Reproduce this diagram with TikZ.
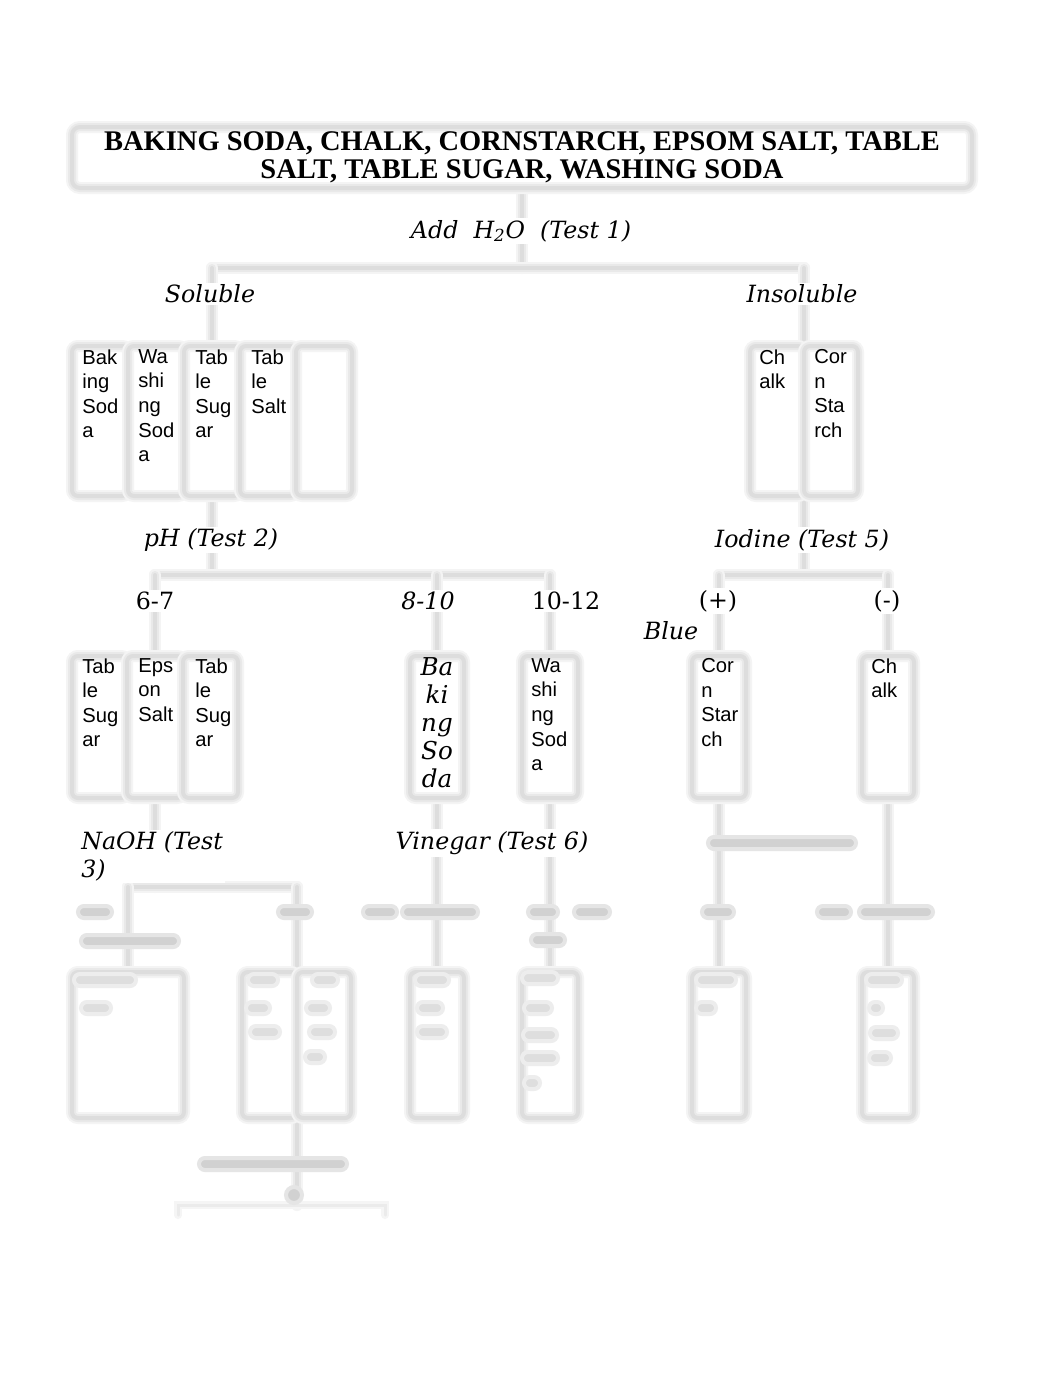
\documentclass[tikz,border=0pt]{standalone}
\usepackage{fontspec}
\setmainfont{Liberation Serif}
\setsansfont{Liberation Sans}
\newfontfamily\djv{DejaVu Serif}
\usetikzlibrary{backgrounds}
\newlength\pu
\setlength\pu{0.02cm}

\tikzset{
  halo/.style={draw=gray!9, line width=12\pu, line cap=round,
    postaction={draw=gray!17, line width=8\pu, line cap=round},
    postaction={draw=gray!27, line width=4\pu, line cap=round}},
  cell/.style={halo, fill=white, rounded corners=6\pu, inner sep=0pt, outer sep=0pt},
  conn/.style={halo},
  faintconn/.style={draw=gray!8, line width=8\pu, line cap=round,
    postaction={draw=gray!16, line width=3\pu, line cap=round}},
  lab/.style={font=\djv\itshape\fontsize{13.5}{16}\selectfont, fill=white, inner sep=2\pu},
  num/.style={font=\djv\fontsize{13.5}{16}\selectfont, fill=white, inner sep=2\pu},
  ctxt/.style={font=\sffamily\fontsize{11.5}{14}\selectfont, align=left, anchor=north west, inner sep=0pt},
  smudge/.style={fill=gray!36, draw=gray!20, line width=4\pu, rounded corners=6\pu, inner sep=0pt, minimum height=12\pu},
  pale/.style={smudge, fill=gray!26, draw=gray!14}
}

\begin{document}
\begin{tikzpicture}[x=0.02cm, y=-0.02cm]
\useasboundingbox (0,0) rectangle (1062,1377);

% starting list
\node[cell, rounded corners=8\pu, minimum width=900\pu, minimum height=61\pu, align=center,
  font=\bfseries\fontsize{16.2}{16}\selectfont] (top) at (522,157.5)
  {BAKING SODA, CHALK, CORNSTARCH, EPSOM SALT, TABLE\\SALT, TABLE SUGAR, WASHING SODA};
\node[lab] (t1) at (521,231) {Add\ \ H\textsubscript{2}O\ \ (Test 1)};
\node[lab] (sol) at (210,294) {Soluble};
\node[lab] (ins) at (802,294) {Insoluble};

% soluble / insoluble
\node[cell, minimum width=56\pu, minimum height=150\pu] (s1) at (100,421) {};
\node[cell, minimum width=56\pu, minimum height=150\pu] (s2) at (156,421) {};
\node[cell, minimum width=56\pu, minimum height=150\pu] (s3) at (212,421) {};
\node[cell, minimum width=56\pu, minimum height=150\pu] (s4) at (268,421) {};
\node[cell, minimum width=56\pu, minimum height=150\pu] (s5) at (324,421) {};
\node[cell, minimum width=54\pu, minimum height=150\pu] (i1) at (777,421) {};
\node[cell, minimum width=54\pu, minimum height=150\pu] (i2) at (831,421) {};
\node[ctxt] (s1t) at (82,349) {Bak\\ing\\Sod\\a};
\node[ctxt] (s2t) at (138,349) {Wa\\shi\\ng\\Sod\\a};
\node[ctxt] (s3t) at (195,349) {Tab\\le\\Sug\\ar};
\node[ctxt] (s4t) at (251,349) {Tab\\le\\Salt};
\node[ctxt] (i1t) at (759,349) {Ch\\alk};
\node[ctxt] (i2t) at (814,349) {Cor\\n\\Sta\\rch};

% pH and iodine
\node[lab] (ph) at (211,540) {pH (Test 2)};
\node[lab] (io) at (802,540) {Iodine (Test 5)};
\node[num] (r67) at (155,601) {6-7};
\node[lab] (r810) at (428,601) {8-10};
\node[num] (r1012) at (566,601) {10-12};
\node[num] (pos) at (718,601) {(+)};
\node[num] (neg) at (887,601) {(-)};
\node[lab] (blue) at (671,631) {Blue};

\node[cell, minimum width=55\pu, minimum height=142\pu] (p1) at (99.5,727) {};
\node[cell, minimum width=56\pu, minimum height=142\pu] (p2) at (155,727) {};
\node[cell, minimum width=55\pu, minimum height=142\pu] (p3) at (210.5,727) {};
\node[cell, minimum width=54\pu, minimum height=142\pu] (bs) at (437,727) {};
\node[cell, minimum width=56\pu, minimum height=142\pu] (wa) at (550,727) {};
\node[cell, minimum width=54\pu, minimum height=142\pu] (cs) at (719,727) {};
\node[cell, minimum width=52\pu, minimum height=142\pu] (ch) at (888,727) {};
\node[ctxt] (p1t) at (82,658) {Tab\\le\\Sug\\ar};
\node[ctxt] (p2t) at (138,658) {Eps\\on\\Salt};
\node[ctxt] (p3t) at (195,658) {Tab\\le\\Sug\\ar};
\node[font=\djv\itshape\fontsize{14}{16}\selectfont, align=center, anchor=north, inner sep=0pt] (bst) at (437,657) {Ba\\ki\\ng\\So\\da};
\node[ctxt] (wat) at (531,658) {Wa\\shi\\ng\\Sod\\a};
\node[ctxt] (cst) at (701,658) {Cor\\n\\Star\\ch};
\node[ctxt] (cht) at (871,658) {Ch\\alk};

% NaOH and vinegar
\node[lab, align=left, anchor=west] (naoh) at (79,856.5) {NaOH (Test\\3)};
\node[lab] (vin) at (492,843) {Vinegar (Test 6)};

\node[cell, minimum width=112\pu, minimum height=146\pu] (n1) at (128,1045) {};
\node[cell, minimum width=55\pu, minimum height=146\pu] (n2a) at (269.5,1045) {};
\node[cell, minimum width=54\pu, minimum height=146\pu] (n2b) at (324,1045) {};
\node[cell, minimum width=54\pu, minimum height=146\pu] (vb) at (437,1045) {};
\node[cell, minimum width=56\pu, minimum height=146\pu] (vw) at (550,1045) {};
\node[cell, minimum width=54\pu, minimum height=146\pu] (vc) at (719,1045) {};
\node[cell, minimum width=52\pu, minimum height=146\pu] (vch) at (888,1045) {};

% blurred labels
\foreach \x/\y/\w [count=\i] in {782/843/148, 95/912/34, 130/941/98, 295/912/34,
  380/912/34, 440/912/76, 543/912/30, 592/912/36, 548/940/34, 718/912/32,
  834/912/34, 896/912/74, 273/1164/148}
  \node[smudge, minimum width=\w\pu] (m\i) at (\x,\y) {};
\node[smudge, minimum width=16\pu, minimum height=16\pu, rounded corners=8\pu] (blob) at (294,1195) {};
% blurred cell texts
\foreach \x/\y/\w [count=\i] in {105/980/62, 96/1008/30, 263/980/30, 258/1008/24,
  265/1032/30, 325/980/26, 318/1008/24, 322/1032/26, 315/1057/20,
  432/980/34, 430/1008/26, 432/1032/30, 540/978/36, 538/1008/28,
  540/1035/34, 540/1058/36, 532/1083/16, 716/980/40, 706/1008/20,
  884/980/36, 876/1008/14, 884/1033/28, 880/1058/22}
  \node[pale, minimum width=\w\pu] (c\i) at (\x,\y) {};

\coordinate (b1) at (522,268);
\coordinate (b2) at (0,575);
\coordinate (b3) at (0,887);
\coordinate (hl) at (178,1205);
\coordinate (hr) at (385,1205);
\coordinate (hlt) at (178,1215);
\coordinate (hrt) at (385,1215);

\begin{scope}[on background layer]
\fill[white] (0,0) rectangle (1062,1377);
\draw[conn] (top.south) -- (b1);
\draw[conn] (s3.north |- b1) -- (i1.north east |- b1);
\draw[conn] (s3.north |- b1) -- (s3.north);
\draw[conn] (i1.north east |- b1) -- (i1.north east);
\draw[conn] (s3.south) -- (s3.south |- b2);
\draw[conn] (p2.north |- b2) -- (wa.north |- b2);
\draw[conn] (p2.north |- b2) -- (p2.north);
\draw[conn] (bs.north |- b2) -- (bs.north);
\draw[conn] (wa.north |- b2) -- (wa.north);
\draw[conn] (i1.south east) -- (i1.south east |- b2);
\draw[conn] (cs.north |- b2) -- (ch.north |- b2);
\draw[conn] (cs.north |- b2) -- (cs.north);
\draw[conn] (ch.north |- b2) -- (ch.north);
\draw[conn] (p2.south) -- (p2.south |- b3);
\draw[conn] (n1.north |- b3) -- (n2a.north east |- b3);
\draw[conn] (n1.north |- b3) -- (n1.north);
\draw[conn] (n2a.north east |- b3) -- (n2a.north east);
\draw[conn] (bs.south) -- (vb.north);
\draw[conn] (wa.south) -- (vw.north);
\draw[conn] (cs.south) -- (vc.north);
\draw[conn] (ch.south) -- (vch.north);
\draw[conn] (n2a.south east) -- (n2a.south east |- hl);
\draw[faintconn] (hlt) -- (hl) -- (hr) -- (hrt);
\end{scope}
\end{tikzpicture}
\end{document}
